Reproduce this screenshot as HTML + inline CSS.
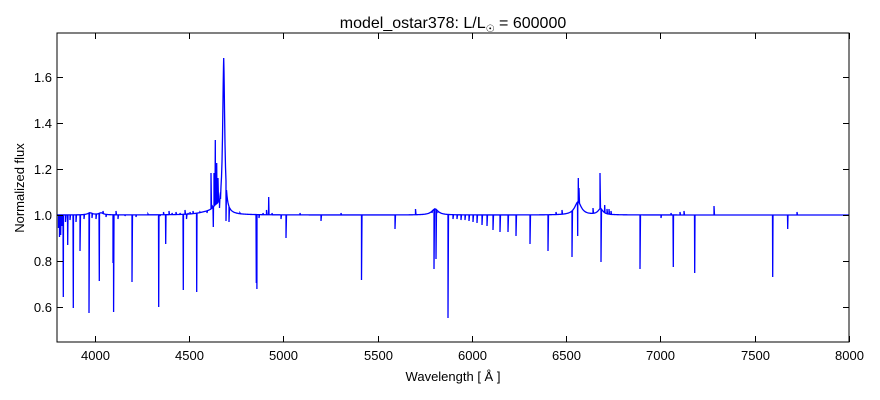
<!DOCTYPE html>
<html><head><meta charset="utf-8"><style>
html,body{margin:0;padding:0;background:#fff;}
svg{display:block;font-family:"Liberation Sans","DejaVu Sans",sans-serif;}
</style></head><body>
<svg id="s" width="880" height="400" xmlns="http://www.w3.org/2000/svg">
<rect x="0" y="0" width="880" height="400" fill="#fff"/>
<path id="spec" d="" fill="none" stroke="#0000ff" stroke-width="1.3" stroke-linejoin="miter"/>
<rect x="57" y="33" width="792" height="309" fill="none" stroke="#000" stroke-width="1"/>
<g id="ticks" stroke="#000" stroke-width="1"></g>
<g id="labels" font-size="13" fill="#000"></g>
<text x="453" y="28" font-size="16" text-anchor="middle">model_ostar378: L/L<tspan font-size="10" dy="4">☉</tspan><tspan dy="-4"> = 600000</tspan></text>
<text x="453" y="381" font-size="13" text-anchor="middle">Wavelength [ Å ]</text>
<text x="0" y="0" font-size="13" text-anchor="middle" transform="translate(24,188) rotate(-90)">Normalized flux</text>
</svg>
<script>
var NS="http://www.w3.org/2000/svg";
var tk=document.getElementById('ticks'),lb=document.getElementById('labels');
function ln(x1,y1,x2,y2){var l=document.createElementNS(NS,'line');l.setAttribute('x1',x1);l.setAttribute('y1',y1);l.setAttribute('x2',x2);l.setAttribute('y2',y2);tk.appendChild(l);}
function tx(x,y,s,a){var t=document.createElementNS(NS,'text');t.setAttribute('x',x);t.setAttribute('y',y);t.setAttribute('text-anchor',a);t.textContent=s;lb.appendChild(t);}
for(var v=4000;v<=8000;v+=500){var x=57+(v-3800)*792/4200;x=Math.round(x)+0.5;ln(x,342,x,336);ln(x,33,x,39);tx(x,360,String(v),'middle');}
for(var i=0;i<6;i++){var vv=0.6+0.2*i;var y=Math.round(215-(vv-1)*230)+0.5;ln(57,y,63,y);ln(849,y,843,y);tx(52,y+4.5,vv.toFixed(1),'end');}
var broad=[[223.7,150,1.2],[578,13,4],[600.5,6,3],[435,6,4],[216,6,5],[207,2,12],[101,2,3],[90,2,3]];
var nar=[[58.5,228],[59.5,237],[60.7,235],[62,226],[63.3,297],[65.5,222],[67.7,245],[70,220],[73.3,308],[76,222],[80,251],[84,219],[89,313],[92,218],[96,219],[99.3,281],[103,211],[106,217],[113,263],[113.6,312],[116,211],[118,219],[125,216],[132,282],[136,217],[148,214],[158.7,307],[160,216],[163.5,212],[165.7,244],[169,211],[172,213],[176,212],[180,213],[183.3,290],[185,210],[186.5,219],[188,213],[190,212],[193,211],[196.7,292],[200,212],[207,213],[211,173],[212,205],[213.3,227],[214,173],[215.3,140],[216.7,163],[218,178],[219.5,208],[220.5,199],[223.7,58],[226,221],[229,222],[240,213],[256.3,283],[256.9,289],[259,218],[263,213],[266.5,210],[268.7,197],[272,213],[281,219],[286,238],[300,213],[321,221],[341,213],[361.5,280],[395,229],[415.5,209],[432,213],[434,269],[436,259],[438,212],[448,318],[453,219],[457,219],[461,220],[465,220],[469,221],[473,222],[477,223],[482,225],[487,226],[493,230],[500,232],[508,232],[516,236],[530,244],[548,251],[556,212],[562,210],[572,257],[577.7,236],[578.3,178],[579,188],[593,208],[600,173],[601,262],[604.7,205],[607,209],[609,209],[611,211],[640,269],[661,218],[671,213],[673.3,267],[680,212],[684,211],[694.7,273],[714,206],[772.7,277],[787.7,229],[797,212]];
function base(x){var y=215;for(var i=0;i<broad.length;i++){var b=broad[i],d=x-b[0];y-=b[1]*b[2]*b[2]/(d*d+b[2]*b[2]);}return y;}
var xs=[];
for(var x=57;x<=849;x+=0.5)xs.push([x,null]);
for(var i=0;i<nar.length;i++){var n=nar[i];xs.push([n[0]-0.5,null]);xs.push([n[0],n[1]]);xs.push([n[0]+0.5,null]);}
xs.sort(function(a,b){return a[0]-b[0];});
var d="";
for(var i=0;i<xs.length;i++){var p=xs[i];var y=p[1]===null?base(p[0]):p[1];d+=(i?"L":"M")+p[0].toFixed(2)+" "+y.toFixed(2);}
document.getElementById('spec').setAttribute('d',d);
</script>
</body></html>
